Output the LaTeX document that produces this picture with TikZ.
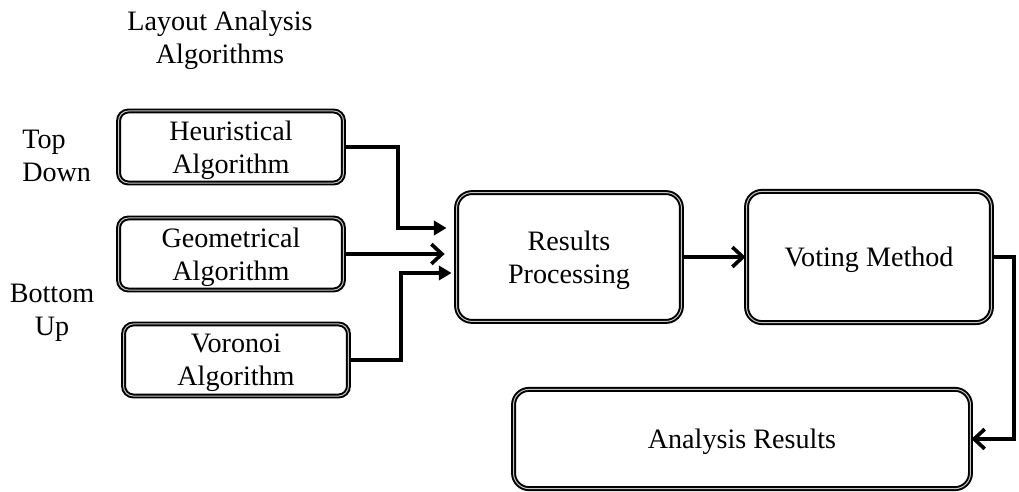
\documentclass[tikz,border=0pt]{standalone}
\usepackage{fontspec}
\setmainfont{Liberation Serif}
\usepackage{tikz}
\usetikzlibrary{calc,positioning,arrows.meta}

\begin{document}
\begin{tikzpicture}[x=0.025cm,y=-0.025cm,
  font=\fontsize{20}{23.5}\selectfont,
  algbox/.style={draw=black,double=gray!45,line width=1.4pt,double distance=0.7pt,
    rounded corners=7pt,fill=white,align=center,text depth=0pt,
    minimum width=5.62cm,minimum height=1.8cm,inner sep=2pt},
  bigbox/.style={algbox,rounded corners=11pt},
  label/.style={align=center,inner sep=0pt},
  link/.style={draw=black,line width=2.8pt},
  fwd/.style={link,-{Triangle[length=9pt,width=10pt]}},
  fwdopen/.style={link,-{Straight Barb[length=7.5pt,width=14pt,line width=2.6pt]}}
]
\useasboundingbox (0,0) rectangle (1019,492);
% algorithm boxes
\node[algbox] (heur) at (231,147) {Heuristical\\Algorithm};
\node[algbox] (geom) at (231,254) {Geometrical\\Algorithm};
\node[algbox] (voro) at (236,360) {Voronoi\\Algorithm};
\node[bigbox,minimum width=5.62cm,minimum height=3.22cm] (res) at (569,257) {Results\\Processing};
\node[bigbox,minimum width=6.12cm,minimum height=3.28cm] (vote) at (869,257) {Voting Method};
\node[bigbox,minimum width=11.42cm,minimum height=2.48cm] (ana) at (742,439) {Analysis Results};
% side labels
\node[label] (title) at (220,40) {Layout Analysis\\Algorithms};
\node[label,align=left,anchor=west] (topdown) at (22,156) {Top\\Down};
\node[label] (bottomup) at (52,313) {Bottom\\Up};
% connectors
\draw[fwd] (heur.east) -| ($(res.west)+(-58,-29)$) -- ($(res.west)+(-9,-29)$);
\draw[fwdopen] (geom.east) -- ($(geom.east -| res.west)+(-11,0)$);
\draw[fwd] (voro.east) -| ($(res.west)+(-55,16)$) -- ($(res.west)+(-4,16)$);
\draw[fwdopen] (res) -- (vote);
\draw[fwdopen] (vote.east) -- ++(22,0) |- (ana.east);
\end{tikzpicture}
\end{document}
